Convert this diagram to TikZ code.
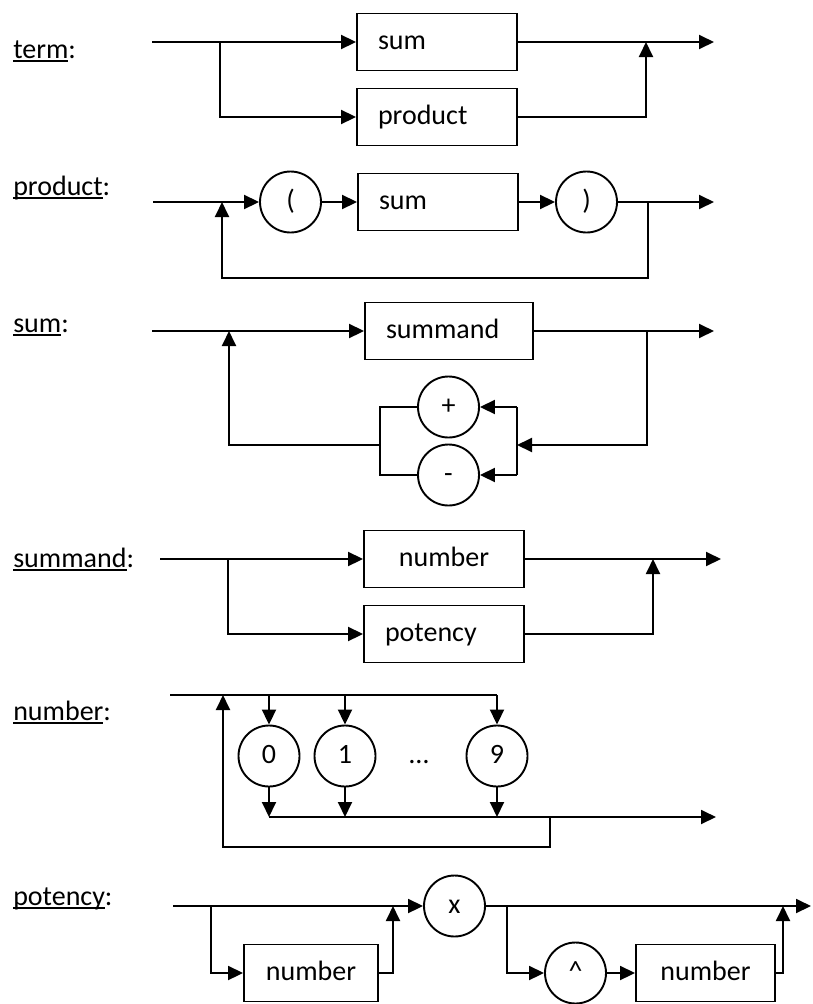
\documentclass[tikz,border=0pt]{standalone}
\usepackage{fontspec}
\setmainfont{Carlito}
\usetikzlibrary{arrows.meta}

\newsavebox{\undlbox}
\newcommand{\undl}[1]{\sbox{\undlbox}{#1}\rlap{\rule[-3.5pt]{\wd\undlbox}{1.8pt}}\usebox{\undlbox}}

\tikzset{
  arr/.style={-{Triangle[length=15pt,width=14pt]}},
  nt/.style={draw, minimum height=57pt, inner xsep=21pt, text width=#1, align=left, text height=20pt, text depth=6pt},
  tok/.style={draw, circle, minimum size=61pt, inner sep=0pt, text height=20pt, text depth=6pt},
  rname/.style={anchor=base west}
}

\begin{document}
\begin{tikzpicture}[x=1pt, y=-1pt, line width=1.9pt, font=\fontsize{28}{34}\selectfont]
\useasboundingbox (0,0) rectangle (813,1004);

% term
\node[rname] (lterm) at (9,58) {\undl{term}:};
\coordinate (t0) at (152,42);
\coordinate (t1) at (220,42);
\node[nt=118pt] (tsum) at (437,42) {sum};
\node[nt=118pt] (tprod) at (437,117) {product};
\coordinate (t2) at (646,42);
\coordinate (t3) at (714,42);
\draw[arr] (t0) -- (tsum);
\draw[arr] (t1) |- (tprod);
\draw[arr] (tsum) -- (t3);
\draw[arr] (tprod) -| (t2);

% product
\node[rname] (lprod) at (9,195) {\undl{product}:};
\coordinate (p0) at (153,202);
\coordinate (p1) at (222,202);
\node[tok] (popen) at (290.5,202) {(};
\node[nt=118pt] (psum) at (438,202) {sum};
\node[tok] (pclose) at (586.5,202) {)};
\coordinate (p2) at (648,202);
\coordinate (p3) at (714,202);
\draw[arr] (p0) -- (popen);
\draw[arr] (popen) -- (psum);
\draw[arr] (psum) -- (pclose);
\draw[arr] (pclose) -- (p3);
\draw[arr] (p2) -- ++(0,76) -| (p1);

% sum
\node[rname] (lsum) at (9,332) {\undl{sum}:};
\coordinate (s0) at (152,331);
\coordinate (s1) at (229,331);
\node[nt=126pt] (ssummand) at (449,331) {summand};
\coordinate (s2) at (647,331);
\coordinate (s3) at (714,331);
\node[tok] (splus) at (448.5,407) {+};
\node[tok] (sminus) at (448.5,475) {-};
\coordinate (sr) at (517,445);
\coordinate (sl) at (380,445);
\draw[arr] (s0) -- (ssummand);
\draw[arr] (ssummand) -- (s3);
\draw[arr] (s2) |- (sr);
\draw (splus -| sr) -- (sminus -| sr);
\draw[arr] (splus -| sr) -- (splus);
\draw[arr] (sminus -| sr) -- (sminus);
\draw (splus) -| (sl) |- (sminus);
\draw[arr] (sl) -| (s1);

% summand
\node[rname] (lsummand) at (9,567) {\undl{summand}:};
\coordinate (m0) at (160,559);
\coordinate (m1) at (228,559);
\node[nt=118pt, align=center] (mnum) at (444,559) {number};
\node[nt=118pt] (mpot) at (444,634) {potency};
\coordinate (m2) at (653,559);
\coordinate (m3) at (721,559);
\draw[arr] (m0) -- (mnum);
\draw[arr] (m1) |- (mpot);
\draw[arr] (mnum) -- (m3);
\draw[arr] (mpot) -| (m2);

% number
\node[rname] (lnum) at (9,720) {\undl{number}:};
\coordinate (n0) at (170,695);
\coordinate (n1) at (223,695);
\node[tok] (d0) at (269,756) {0};
\node[tok] (d1) at (345,756) {1};
\node[anchor=base] (ddots) at (419,763) {…};
\node[tok] (d9) at (497,756) {9};
\coordinate (n2) at (550,817);
\coordinate (n3) at (716,817);
\draw (n0) -- (n0 -| d9);
\foreach \d in {d0,d1,d9} {
  \draw[arr] (n0 -| \d) -- (\d);
  \draw[arr] (\d) -- (\d |- n2);
}
\draw[arr] (d0 |- n2) -- (n3);
\draw[arr] (n2) -- ++(0,30) -| (n1);

% potency
\node[rname] (lpot) at (9,905) {\undl{potency}:};
\coordinate (q0) at (173,906);
\coordinate (q1) at (211,906);
\node[nt=92pt, align=center] (qnum) at (311,973) {number};
\coordinate (q2) at (393,906);
\node[tok] (qx) at (454.5,906) {x};
\coordinate (q3) at (507,906);
\node[tok] (qpow) at (575.5,973) {\textasciicircum};
\node[nt=97pt, align=center] (qexp) at (705.5,973) {number};
\coordinate (q4) at (783,906);
\coordinate (q5) at (811,906);
\draw[arr] (q0) -- (qx);
\draw[arr] (q1) |- (qnum);
\draw[arr] (qnum) -| (q2);
\draw[arr] (qx) -- (q5);
\draw[arr] (q3) |- (qpow);
\draw[arr] (qpow) -- (qexp);
\draw[arr] (qexp) -| (q4);
\end{tikzpicture}
\end{document}
